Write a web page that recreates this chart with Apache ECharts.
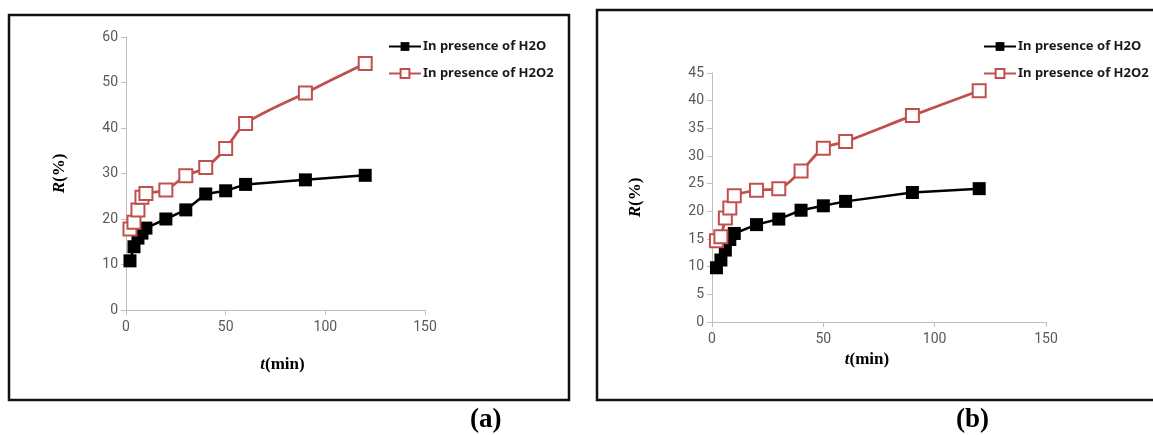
<!DOCTYPE html>
<html>
<head>
<meta charset="utf-8">
<script src="https://cdn.jsdelivr.net/npm/echarts@6/dist/echarts.min.js"></script>
<style>
  html, body { margin: 0; padding: 0; background: #fff; }
  #chart { width: 1153px; height: 435px; }
</style>
</head>
<body>
<div id="chart"></div>
<script>
// sampling times (min), same for both panels
const times = [2, 4, 6, 8, 10, 20, 30, 40, 50, 60, 90, 120]

// panel (a)
const waterA = [10.8, 13.9, 15.8, 16.9, 18.0, 20.0, 22.0, 25.5, 26.2, 27.6, 28.6, 29.6]
const peroxideA = [17.8, 19.3, 22.0, 24.8, 25.6, 26.4, 29.5, 31.3, 35.5, 41.0, 47.7, 54.2]

// panel (b)
const waterB = [9.8, 11.2, 13.0, 14.9, 16.0, 17.6, 18.6, 20.2, 21.0, 21.8, 23.4, 24.1]
const peroxideB = [14.7, 15.4, 18.8, 20.6, 22.8, 23.8, 24.1, 27.3, 31.4, 32.6, 37.3, 41.8]

const nameWater = 'In presence of H2O'
const namePeroxide = 'In presence of H2O2'

const red = '#C0504D'
const tickFont = 'Roboto'
const titleFont = 'Liberation Serif'

const pairs = (ys) => times.map((t, i) => [t, ys[i]])

const chart = echarts.init(document.getElementById('chart'), null, { renderer: 'canvas' })

const xAxisBase = {
  type: 'value',
  min: 0,
  max: 150,
  interval: 50,
  splitLine: { show: false },
  axisLine: { show: true, lineStyle: { color: '#BFBFBF', width: 1 } },
  axisTick: { show: true, length: 5, lineStyle: { color: '#BFBFBF' } },
  axisLabel: { color: '#595959', fontFamily: tickFont, fontSize: 14, margin: 10 },
  nameLocation: 'middle',
  name: '{i|t}{b|(min)}',
  nameTextStyle: {
    rich: {
      i: { fontFamily: titleFont, fontWeight: 'bold', fontStyle: 'italic', fontSize: 17, color: '#000' },
      b: { fontFamily: titleFont, fontWeight: 'bold', fontSize: 17, color: '#000' }
    }
  }
}

const yAxisBase = {
  type: 'value',
  min: 0,
  splitLine: { show: false },
  axisLine: { show: true, lineStyle: { color: '#BFBFBF', width: 1 } },
  axisTick: { show: true, length: 5, lineStyle: { color: '#BFBFBF' } },
  axisLabel: { color: '#595959', fontFamily: tickFont, fontSize: 14, margin: 8 },
  nameLocation: 'middle',
  nameRotate: 90,
  name: '{i|R}{b|(%)}',
  nameTextStyle: {
    rich: {
      i: { fontFamily: titleFont, fontWeight: 'bold', fontStyle: 'italic', fontSize: 17, color: '#000' },
      b: { fontFamily: titleFont, fontWeight: 'bold', fontSize: 17, color: '#000' }
    }
  }
}

const legendBase = {
  orient: 'vertical',
  itemWidth: 32,
  itemHeight: 11,
  itemGap: 14,
  data: [nameWater, namePeroxide],
  textStyle: { fontFamily: 'Noto Sans', fontWeight: 'bold', fontSize: 13, color: '#1a1a1a', padding: [0, 0, 0, -3] }
}

const waterSeries = (idx, data) => ({
  name: nameWater,
  type: 'line',
  xAxisIndex: idx,
  yAxisIndex: idx,
  data: pairs(data),
  symbol: 'rect',
  symbolSize: 13,
  itemStyle: { color: '#000' },
  lineStyle: { color: '#000', width: 2.5 },
  animation: false
})

const peroxideSeries = (idx, data) => ({
  name: namePeroxide,
  type: 'line',
  xAxisIndex: idx,
  yAxisIndex: idx,
  data: pairs(data),
  smooth: 0.3,
  symbol: 'emptyRect',
  symbolSize: 13,
  itemStyle: { color: red, borderWidth: 1.5 },
  lineStyle: { color: red, width: 2.8 },
  animation: false
})

const option = {
  backgroundColor: '#fff',
  animation: false,
  grid: [
    { left: 126, right: 728, top: 37, bottom: 125 },
    { left: 712, right: 107, top: 73, bottom: 113 }
  ],
  xAxis: [
    Object.assign({}, xAxisBase, { gridIndex: 0, nameGap: 46, nameTextStyle: Object.assign({}, xAxisBase.nameTextStyle, { padding: [0, 0, 0, 14] }) }),
    Object.assign({}, xAxisBase, { gridIndex: 1, nameGap: 27, nameTextStyle: Object.assign({}, xAxisBase.nameTextStyle, { padding: [0, 24, 0, 0] }) })
  ],
  yAxis: [
    Object.assign({}, yAxisBase, { gridIndex: 0, max: 60, interval: 10, nameGap: 58 }),
    Object.assign({}, yAxisBase, { gridIndex: 1, max: 45, interval: 5, nameGap: 68 })
  ],
  legend: [
    Object.assign({}, legendBase, { left: 383, top: 35 }),
    Object.assign({}, legendBase, { left: 978, top: 35 })
  ],
  series: [
    waterSeries(0, waterA),
    peroxideSeries(0, peroxideA),
    waterSeries(1, waterB),
    peroxideSeries(1, peroxideB)
  ],
  graphic: [
    // panel frames
    { type: 'rect', shape: { x: 9, y: 15, width: 560, height: 385 }, style: { fill: 'none', stroke: '#111', lineWidth: 2.5 } },
    { type: 'rect', shape: { x: 597, y: 10, width: 560, height: 390 }, style: { fill: 'none', stroke: '#111', lineWidth: 2.5 } },
    // panel tags
    { type: 'text', left: 470, top: 407, style: { text: '(a)', font: 'bold 27px "Liberation Serif"', fill: '#000' } },
    { type: 'text', left: 956, top: 407, style: { text: '(b)', font: 'bold 27px "Liberation Serif"', fill: '#000' } }
  ]
}

chart.setOption(option)
window.addEventListener('resize', () => {
  chart.resize()
})
</script>
</body>
</html>
